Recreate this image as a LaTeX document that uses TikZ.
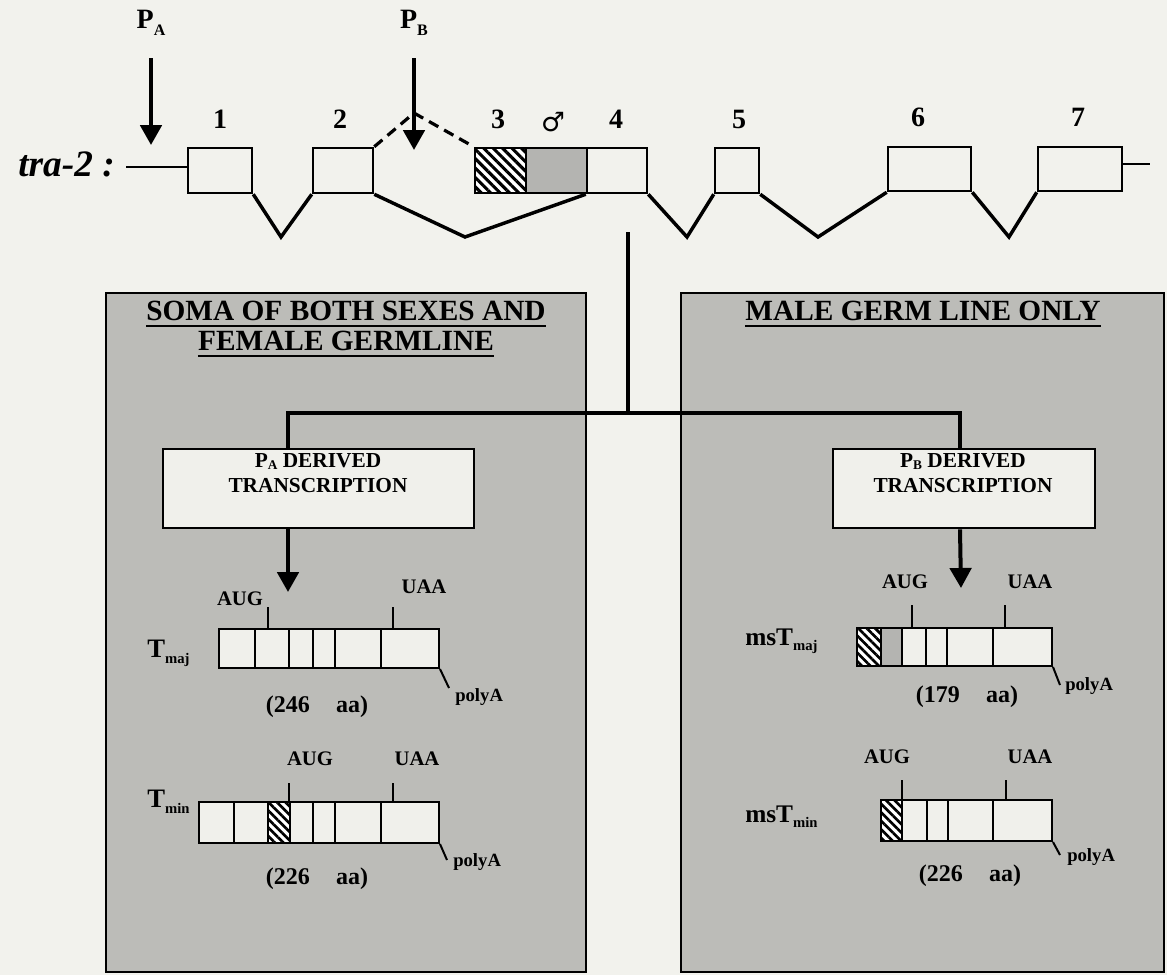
\documentclass[tikz,border=0pt]{standalone}
\usepackage{fontspec}
\setmainfont{Liberation Serif}
\newfontfamily\dejavu{DejaVu Sans}
\usetikzlibrary{arrows.meta,patterns.meta,fit,calc}
\definecolor{paper}{RGB}{242,242,237}
\definecolor{panelgrey}{RGB}{188,188,184}
\definecolor{boxfill}{RGB}{240,240,235}
\definecolor{exgrey}{RGB}{180,180,177}
\newcommand{\myfs}[1]{\fontsize{#1}{#1}\selectfont}
\newcommand{\mysb}[2]{\raisebox{-0.5ex}{\myfs{#1}#2}}
\newcommand{\mysbs}[2]{\raisebox{-0.25ex}{\myfs{#1}#2}}
\begin{document}
\begin{tikzpicture}[x=0.75pt,y=-0.75pt,font=\bfseries,
  exon/.style={draw,line width=1.9pt,fill=paper,inner sep=0pt},
  hatchbox/.style={draw,inner sep=0pt,pattern={Lines[angle=-45,distance=5pt,line width=2.3pt]},pattern color=black,preaction={fill=white}},
  intron/.style={line width=2.6pt,line join=miter},
  dashline/.style={line width=2.4pt,dash pattern=on 8pt off 5pt},
  bigarrow/.style={line width=3pt,-{Triangle[width=16pt,length=15pt]}},
  num/.style={font=\bfseries\myfs{21}},
  panel/.style={draw,line width=2.2pt,fill=panelgrey,inner sep=0pt},
  title/.style={font=\bfseries\myfs{22},inner sep=0pt},
  uline/.style={line width=2pt},
  conn/.style={line width=3pt},
  tbox/.style={draw,line width=2pt,fill=boxfill,inner sep=0pt},
  tboxtext/.style={font=\bfseries\myfs{16},inner sep=0pt},
  tx/.style={draw,line width=1.5pt,fill=boxfill,inner sep=0pt},
  tick/.style={line width=1.5pt},
  codon/.style={font=\bfseries\myfs{15.5},inner sep=0pt},
  poly/.style={font=\bfseries\myfs{14},inner sep=0pt},
  aa/.style={font=\bfseries\myfs{18},inner sep=0pt},
  tname/.style={font=\bfseries\myfs{20},inner sep=0pt}
]
\useasboundingbox[fill=paper] (0,0) rectangle (1167,975);

% ---------- gene ----------
\node[num] (pa) at (151,23) {P\mysb{12}{A}};
\node[num] (pb) at (414,23) {P\mysb{12}{B}};
\coordinate (paT) at (151,58);  \coordinate (paB) at (151,145);
\coordinate (pbT) at (414,58);  \coordinate (pbB) at (414,150);
\draw[bigarrow] (paT) -- (paB);

\node[font=\bfseries\itshape\myfs{28},anchor=base east,inner sep=0pt] (lbl) at (115,176) {tra-2 :};

\node[exon,fit={(188,148)(252,193)}] (e1) {};
\node[exon,fit={(313,148)(373,193)}] (e2) {};
\node[hatchbox,line width=1.9pt,fit={(475,148)(526,193)}] (e3) {};
\node[exon,fill=exgrey,fit={(526,148)(587,193)}] (e3g) {};
\node[exon,fit={(587,148)(647,193)}] (e4) {};
\node[exon,fit={(715,148)(759,193)}] (e5) {};
\node[exon,fit={(888,147)(971,191)}] (e6) {};
\node[exon,fit={(1038,147)(1122,191)}] (e7) {};

\coordinate (gl) at (126,167);
\coordinate (gr) at (1150,164);
\draw[line width=1.9pt] (gl) -- (gl -| e1.west);
\draw[line width=1.9pt] (gr -| e7.east) -- (gr);

\coordinate (v1) at (281,237);
\coordinate (v2) at (465,237);
\coordinate (v3) at (687,237);
\coordinate (v4) at (818,237);
\coordinate (v5) at (1009,237);
\coordinate (pk) at (414,113);
\draw[intron] (e1.south east) -- (v1) -- (e2.south west);
\draw[intron] (e2.south east) -- (v2) -- (e4.south west);
\draw[intron] (e4.south east) -- (v3) -- (e5.south west);
\draw[intron] (e5.south east) -- (v4) -- (e6.south west);
\draw[intron] (e6.south east) -- (v5) -- (e7.south west);
\draw[dashline] (e2.north east) -- (pk) -- (e3.north west);
\draw[bigarrow] (pbT) -- (pbB);

\node[num] (n1) at (220,119) {1};
\node[num] (n2) at (340,119) {2};
\node[num] (n3) at (498,119) {3};
\node[num] (n4) at (616,119) {4};
\node[num] (n5) at (739,119) {5};
\node[num] (n6) at (918,117) {6};
\node[num] (n7) at (1078,117) {7};
\node[font=\dejavu\bfseries\myfs{20}] (male) at (553,122) {♂};

% ---------- panels ----------
\node[panel,fit={(106,293)(586,972)}] (lp) {};
\node[panel,fit={(681,293)(1164,972)}] (rp) {};

\node[title,anchor=base] (t1) at (346,320) {SOMA OF BOTH SEXES AND};
\node[title,anchor=base] (t2) at (346,350) {FEMALE GERMLINE};
\node[title,anchor=base] (t3) at (923,320) {MALE GERM LINE ONLY};
\draw[uline] ([yshift=-4.5pt]t1.base west) -- ([yshift=-4.5pt]t1.base east);
\draw[uline] ([yshift=-4.5pt]t2.base west) -- ([yshift=-4.5pt]t2.base east);
\draw[uline] ([yshift=-4.5pt]t3.base west) -- ([yshift=-4.5pt]t3.base east);

% connectors
\coordinate (gtop) at (628,232);
\coordinate (jn) at (628,413);
\coordinate (ca) at (288,413);
\coordinate (cb) at (960,413);
\node[tbox,fit={(163,449)(474,528)}] (pabox) {};
\node[tbox,fit={(833,449)(1095,528)}] (pbbox) {};
\draw[conn] (gtop) -- (jn);
\draw[conn,line cap=rect] (ca) -- (cb);
\draw[conn] (ca) -- (ca |- pabox.north);
\draw[conn] (cb) -- (cb |- pbbox.north);

\node[tboxtext,anchor=base] (pat1) at (318,467) {P\mysbs{10}{A} DERIVED};
\node[tboxtext,anchor=base] (pat2) at (318,492) {TRANSCRIPTION};
\node[tboxtext,anchor=base] (pbt1) at (963,467) {P\mysbs{10}{B} DERIVED};
\node[tboxtext,anchor=base] (pbt2) at (963,492) {TRANSCRIPTION};

\coordinate (aA) at (288,592);
\coordinate (aB) at (961,588);
\draw[bigarrow] (ca |- pabox.south) -- (aA);
\draw[bigarrow] (cb |- pbbox.south) -- (aB);

% ---------- T maj ----------
\node[tname,anchor=base west] (tmajl) at (147,657) {T\mysb{11}{maj}};
\node[tx,fit={(219,629)(439,668)}] (tmaj) {};
\foreach \xx in {255,289,313,335,381} \draw[tick] (\xx,629) -- (\xx,668);
\draw[tick] (268,607) -- (268,629);
\draw[tick] (393,607) -- (393,629);
\node[codon,anchor=base] (tmajaug) at (240,605) {AUG};
\node[codon,anchor=base] (tmajuaa) at (424,593) {UAA};
\coordinate (tmajp) at (449,688);
\draw[tick] (tmaj.south east) -- (tmajp);
\node[poly,anchor=base west] (tmajpa) at (455,701) {polyA};
\node[aa,anchor=base] (tmajaa) at (317,712) {(246\hspace{1.1em}aa)};

% ---------- T min ----------
\node[tname,anchor=base west] (tminl) at (147,807) {T\mysb{11}{min}};
\node[tx,fit={(199,802)(439,843)}] (tmin) {};
\node[hatchbox,line width=1.5pt,pattern={Lines[angle=-45,distance=4.5pt,line width=2pt]},fit={(268,802)(290,843)}] (tminh) {};
\foreach \xx in {234,313,335,381} \draw[tick] (\xx,802) -- (\xx,843);
\draw[tick] (289,783) -- (289,802);
\draw[tick] (393,783) -- (393,802);
\node[codon,anchor=base] (tminaug) at (310,765) {AUG};
\node[codon,anchor=base] (tminuaa) at (417,765) {UAA};
\coordinate (tminp) at (447,860);
\draw[tick] (tmin.south east) -- (tminp);
\node[poly,anchor=base west] (tminpa) at (453,866) {polyA};
\node[aa,anchor=base] (tminaa) at (317,884) {(226\hspace{1.1em}aa)};

% ---------- msT maj ----------
\node[tname,font=\bfseries\myfs{19},anchor=base west] (msmajl) at (745,645) {msT\mysb{11}{maj}};
\node[tx,fit={(857,628)(1052,666)}] (msmaj) {};
\node[hatchbox,line width=1.5pt,pattern={Lines[angle=-45,distance=4.5pt,line width=2pt]},fit={(857,628)(881,666)}] (msmajh) {};
\node[tx,fill=exgrey,fit={(881,628)(902,666)}] (msmajg) {};
\foreach \xx in {926,947,993} \draw[tick] (\xx,628) -- (\xx,666);
\draw[tick] (912,605) -- (912,628);
\draw[tick] (1005,605) -- (1005,628);
\node[codon,anchor=base] (msmajaug) at (905,588) {AUG};
\node[codon,anchor=base] (msmajuaa) at (1030,588) {UAA};
\coordinate (msmajp) at (1060,685);
\draw[tick] (msmaj.south east) -- (msmajp);
\node[poly,anchor=base west] (msmajpa) at (1065,690) {polyA};
\node[aa,anchor=base] (msmajaa) at (967,702) {(179\hspace{1.1em}aa)};

% ---------- msT min ----------
\node[tname,font=\bfseries\myfs{19},anchor=base west] (msminl) at (745,822) {msT\mysb{11}{min}};
\node[tx,fit={(881,800)(1052,841)}] (msmin) {};
\node[hatchbox,line width=1.5pt,pattern={Lines[angle=-45,distance=4.5pt,line width=2pt]},fit={(881,800)(902,841)}] (msminh) {};
\foreach \xx in {927,948,993} \draw[tick] (\xx,800) -- (\xx,841);
\draw[tick] (902,780) -- (902,800);
\draw[tick] (1006,780) -- (1006,800);
\node[codon,anchor=base] (msminaug) at (887,763) {AUG};
\node[codon,anchor=base] (msminuaa) at (1030,763) {UAA};
\coordinate (msminp) at (1060,855);
\draw[tick] (msmin.south east) -- (msminp);
\node[poly,anchor=base west] (msminpa) at (1067,861) {polyA};
\node[aa,anchor=base] (msminaa) at (970,881) {(226\hspace{1.1em}aa)};
\end{tikzpicture}
\end{document}
